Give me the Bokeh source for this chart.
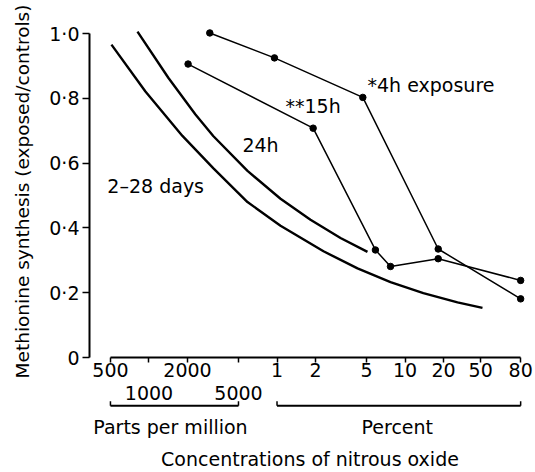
from bokeh.plotting import figure
from bokeh.layouts import column
from bokeh.models import LogAxis, FixedTicker, Range1d
from bokeh.embed import file_html
from bokeh.resources import INLINE
from bokeh.core.properties import value

# ---- data (concentration in parts per million; 1 % = 10000 ppm) ----
conc_4h = [2985, 9550, 46800, 181600, 800000]
synth_4h = [1.002, 0.925, 0.803, 0.335, 0.181]

conc_15h = [2020, 19150, 58700, 77000, 181600, 800000]
synth_15h = [0.906, 0.708, 0.332, 0.281, 0.305, 0.238]

conc_24h = [813, 1420, 2307, 3188, 5880, 10650, 18260, 31330, 50900]
synth_24h = [1.006, 0.863, 0.750, 0.683, 0.576, 0.490, 0.425, 0.369, 0.326]

conc_2_28d = [509, 938, 1825, 3188, 5880, 10650, 23070, 42550, 77000, 139000, 257000, 402700]
synth_2_28d = [0.966, 0.821, 0.684, 0.584, 0.480, 0.407, 0.328, 0.275, 0.233, 0.199, 0.170, 0.153]

# axis ticks as drawn in the original (the "50" mark is drawn left of its log position)
x_ticks = [500, 1000, 2000, 5000, 10000, 20000, 50000, 100000, 200000, 390000, 800000]
x_labels_row1 = ["500", "", "2000", "", "1", "2", "5", "10", "20", "50", "80"]
x_ticks_row2 = [1000, 5000]
x_labels_row2 = ["1000", "5000"]
y_ticks = [0, 0.2, 0.4, 0.6, 0.8, 1.0]
y_labels = ["0", "0·2", "0·4", "0·6", "0·8", "1·0"]

ppm_span = (500, 5000)
pct_span = (10000, 800000)
unit_names = ["Parts per million", "Percent"]
unit_name_x = [1472, 87000]

FONT = "DejaVu Sans"

# ---------------- main chart ----------------
p = figure(width=535, height=382, x_axis_type="log",
           x_range=Range1d(343, 955000), y_range=Range1d(0, 1.025),
           output_backend="svg", toolbar_location=None,
           min_border_left=89, min_border_right=5, min_border_top=25,
           min_border_bottom=25)
p.grid.visible = False
p.outline_line_color = None

xa = p.xaxis[0]
xa.ticker = FixedTicker(ticks=x_ticks, minor_ticks=[])
xa.major_label_overrides = dict(zip(x_ticks, x_labels_row1))
xa.bounds = (500, 800000)
xa.axis_line_width = 2
xa.axis_line_color = "black"
xa.major_tick_out = 5
xa.major_tick_in = 0
xa.minor_tick_out = 0
xa.minor_tick_in = 0
xa.major_tick_line_width = 1.5
xa.major_label_standoff = 0
xa.major_label_text_font = FONT
xa.major_label_text_font_size = "19px"
xa.major_label_text_color = "black"

ya = p.yaxis[0]
ya.ticker = FixedTicker(ticks=y_ticks, minor_ticks=[])
ya.major_label_overrides = dict(zip(y_ticks, y_labels))
ya.bounds = (0, 1.0)
ya.axis_line_width = 2
ya.axis_line_color = "black"
ya.major_tick_out = 7
ya.major_tick_in = 0
ya.minor_tick_out = 0
ya.minor_tick_in = 0
ya.major_tick_line_width = 1.5
ya.major_label_standoff = 3
ya.major_label_text_font = FONT
ya.major_label_text_font_size = "19px"
ya.major_label_text_color = "black"
ya.axis_label = "Methionine synthesis (exposed/controls)"
ya.axis_label_text_font = FONT
ya.axis_label_text_font_size = "18.5px"
ya.axis_label_text_font_style = "normal"
ya.axis_label_text_color = "black"
ya.axis_label_standoff = 13

# fitted curves
p.line(conc_2_28d, synth_2_28d, line_width=2.4, line_color="black", line_join="round")
p.line(conc_24h, synth_24h, line_width=2.4, line_color="black", line_join="round")

# measured series
p.line(conc_4h, synth_4h, line_width=1.5, line_color="black")
p.scatter(conc_4h, synth_4h, size=6.5, color="black")
p.line(conc_15h, synth_15h, line_width=1.5, line_color="black")
p.scatter(conc_15h, synth_15h, size=6.5, color="black")

lab_x = [50900, 11640, 5370, 473]
lab_y = [0.840, 0.775, 0.657, 0.528]
lab_t = ["*4h exposure", "**15h", "24h", "2–28 days"]
p.text(x=lab_x, y=lab_y, text=lab_t, text_font=value(FONT), text_font_size="19px",
       text_baseline="middle", text_align="left", text_color="black")

# ---------------- strip under the axis: second label row, brackets, titles ----------------
p2 = figure(width=535, height=90, x_axis_type="log", x_range=p.x_range,
            y_range=Range1d(0, 49), y_axis_location=None,
            output_backend="svg", toolbar_location=None,
            min_border_left=89, min_border_right=5, min_border_top=14,
            min_border_bottom=27)
p2.grid.visible = False
p2.outline_line_color = None

bx = p2.xaxis[0]  # default axis below: carries only the axis title
bx.ticker = FixedTicker(ticks=[], minor_ticks=[])
bx.axis_line_color = None
bx.major_tick_line_color = None
bx.minor_tick_line_color = None
bx.major_tick_out = 0
bx.major_tick_in = 0
bx.minor_tick_out = 0
bx.minor_tick_in = 0
bx.major_label_text_font_size = "0px"
bx.axis_label = "Concentrations of nitrous oxide"
bx.axis_label_text_font = FONT
bx.axis_label_text_font_size = "19px"
bx.axis_label_text_font_style = "normal"
bx.axis_label_text_color = "black"
bx.axis_label_standoff = 5

top_ax = LogAxis(ticker=FixedTicker(ticks=x_ticks_row2, minor_ticks=[]),
                 major_label_overrides=dict(zip(x_ticks_row2, x_labels_row2)),
                 axis_line_color=None, major_tick_line_color=None,
                 minor_tick_line_color=None, major_tick_out=0, major_tick_in=0,
                 minor_tick_out=0, minor_tick_in=0, major_label_standoff=-1,
                 major_label_text_font=FONT, major_label_text_font_size="19px",
                 major_label_text_color="black")
p2.add_layout(top_ax, "above")

bracket_y = 41
bracket_tick_top = 46
spans = [ppm_span, pct_span]
p2.segment(x0=[s[0] for s in spans], y0=[bracket_y] * 2,
           x1=[s[1] for s in spans], y1=[bracket_y] * 2,
           line_width=2, line_color="black")
ends = [v for s in spans for v in s]
p2.segment(x0=ends, y0=[bracket_y] * 4, x1=ends, y1=[bracket_tick_top] * 4,
           line_width=1.5, line_color="black")
p2.text(x=unit_name_x, y=[17, 17], text=unit_names, text_font=value(FONT),
        text_font_size="19px", text_align="center", text_baseline="middle",
        text_color="black")

layout = column(p, p2, spacing=0)
open("out.html", "w").write(file_html(layout, INLINE))
